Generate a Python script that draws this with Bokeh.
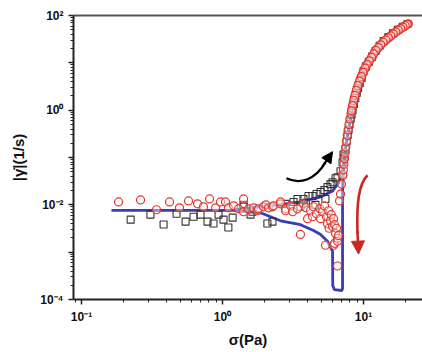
from bokeh.plotting import figure
from bokeh.models import (Range1d, FixedTicker, CustomJSTickFormatter, LinearAxis,
                          Arrow, NormalHead)
from bokeh.embed import file_html
from bokeh.resources import INLINE

# ---------------- data ----------------
# down-sweep (red open circles)
red_x = [0.183, 0.262, 0.340, 0.421, 0.495, 0.574, 0.665, 0.733, 0.809, 0.892, 0.968,
         1.05, 1.10, 1.20, 1.30, 1.41, 1.41, 1.53, 1.66, 1.77, 1.80, 1.95, 2.03, 2.12,
         2.26, 2.30, 2.58, 2.58, 2.80, 2.80, 3.04, 3.14, 3.40, 3.57, 3.75, 3.90, 4.01,
         4.21, 4.35, 4.42, 4.64, 4.90, 4.95, 5.12, 5.30, 5.37, 5.46, 5.55, 5.65, 5.70,
         5.83, 5.90, 6.03, 6.13, 6.13, 6.23, 6.23, 6.33, 6.43, 6.54, 6.54, 6.54, 6.65,
         6.76, 6.87, 6.98, 7.10,
         7.15, 7.20, 7.26, 7.33, 7.40, 7.48, 7.57, 7.67, 7.77, 7.88, 8.0, 8.15, 8.3,
         8.45, 8.6, 8.8, 9.0, 9.25, 9.5, 9.8, 10.1, 10.4, 10.8, 11.2, 11.6, 12.0, 12.5,
         13.0, 13.5, 14.1, 14.7, 15.3, 15.9, 16.6, 17.3, 18.0, 18.7, 19.4, 20.1, 20.8,
         20.45, 19.75, 19.05, 18.35, 17.65, 16.95, 16.25, 15.6, 15.0, 14.4, 13.8, 13.25,
         12.75, 12.25, 11.8, 11.4, 11.0, 10.6, 10.25, 9.95, 9.65, 9.37, 9.12, 8.9, 8.7,
         8.52, 8.37, 8.22]
red_y = [0.0115, 0.0127, 0.00787, 0.0115, 0.00866, 0.0121, 0.0105, 0.00909, 0.0133,
         0.00866, 0.0115, 0.0115, 0.00866, 0.00953, 0.00825, 0.00715, 0.0133, 0.00825,
         0.00866, 0.0075, 0.00825, 0.00909, 0.0100, 0.00866, 0.00909, 0.00953, 0.0105,
         0.0115, 0.00825, 0.0075, 0.00953, 0.00715, 0.00825, 0.00237, 0.0105, 0.0087,
         0.0051, 0.0075, 0.0056, 0.0091, 0.0065, 0.0083, 0.0051, 0.00715, 0.0095,
         0.0014, 0.00562, 0.0040, 0.0075, 0.0032, 0.00464, 0.0062, 0.00348, 0.0051,
         0.0014, 0.0038, 0.00154, 0.00249, 0.0032, 0.00196, 0.0017, 0.00051, 0.00226,
         0.0121, 0.0169, 0.0274, 0.0442,
         0.042, 0.055, 0.072, 0.095, 0.125, 0.165, 0.22, 0.29, 0.38, 0.5, 0.65, 0.85,
         1.1, 1.4, 1.8, 2.3, 2.9, 3.7, 4.6, 5.7, 7.0, 8.4, 10.0, 12.0, 14.0, 17.0, 19.5,
         22.5, 25.5, 29.0, 32.0, 35.5, 39.0, 43.0, 47.0, 51.0, 55.0, 59.0, 63.0, 67.0,
         65.0, 61.0, 57.0, 53.0, 49.0, 45.0, 41.0, 37.0, 33.8, 30.5, 27.2, 24.0,
         21.0, 18.2, 15.5, 13.0, 11.0, 9.2, 7.7, 6.3, 5.1, 4.1, 3.3, 2.6, 2.05,
         1.6, 1.25, 0.97]

# up-sweep (black open squares)
blk_x = [0.223, 0.308, 0.382, 0.472, 0.547, 0.623, 0.698, 0.783, 0.863, 0.937, 1.016,
         1.10, 1.18, 1.41, 1.41, 1.58, 1.63, 2.08, 2.26, 2.80, 3.19, 3.40, 3.57, 3.75,
         3.90, 4.07, 4.35, 4.56, 4.64, 4.96, 5.28, 5.37, 5.55, 5.83, 6.03, 6.33, 6.54,
         6.87, 7.10, 7.21,
         7.30, 7.45, 7.60, 7.72, 7.83, 7.95, 8.10, 8.22, 8.36, 8.55, 8.75, 8.95, 9.15,
         9.40, 9.70, 10.0, 10.4, 10.9, 11.5, 12.2, 13.0, 13.9, 15.0, 16.2, 17.5, 19.0,
         20.5]
blk_y = [0.00487, 0.0062, 0.00383, 0.0065, 0.00442, 0.00562, 0.0062, 0.00442, 0.00402,
         0.0062, 0.00487, 0.00332, 0.00536, 0.00909, 0.0100, 0.0062, 0.00715, 0.00402,
         0.00442, 0.0105, 0.0115, 0.0133, 0.0091, 0.0133, 0.0110, 0.0154, 0.0154, 0.0100,
         0.0169, 0.0187, 0.0205, 0.0133, 0.0237, 0.0274, 0.0301, 0.0365, 0.0383, 0.0511,
         0.0787, 0.1155,
         0.10, 0.15, 0.22, 0.30, 0.38, 0.50, 0.65, 0.80, 1.0, 1.35, 1.8, 2.3, 2.9, 3.7,
         4.8, 6.6, 8.4, 10.5, 13.5, 18.0, 23.0, 28.7, 35.0, 42.0, 50.0, 58.0, 66.0]

# model curves (blue)
blue_a_x = [0.163, 1.20, 1.86, 2.58, 3.57, 4.42, 4.96, 5.55, 6.03, 6.05, 6.22, 7.02, 7.10,
            7.10, 7.21, 7.45, 7.83, 8.36, 9.06, 10.0, 11.6, 13.9, 16.9, 20.5]
blue_a_y = [0.0076, 0.0076, 0.0068, 0.0046, 0.0038, 0.00287, 0.00237, 0.0017, 0.00105,
            0.000196, 0.000162, 0.000155, 0.00017, 0.0187, 0.056, 0.147, 0.383, 1.0,
            2.61, 6.8, 14.0, 28.7, 46.4, 68.0]
blue_b_x = [1.20, 2.19, 3.57, 4.96, 6.03, 6.65, 7.10, 7.30]
blue_b_y = [0.0079, 0.0095, 0.0115, 0.0147, 0.0195, 0.0289, 0.051, 0.09]

x_major = [0.1, 1, 10]
y_major = [1e-4, 1e-3, 1e-2, 1e-1, 1, 10, 100]

# ---------------- figure ----------------
p = figure(width=422, height=350, x_axis_type="log", y_axis_type="log",
           x_range=Range1d(0.0877, 26.2), y_range=Range1d(1e-4, 1e2),
           output_backend="svg", toolbar_location=None,
           min_border_left=73, min_border_right=0, min_border_top=15, min_border_bottom=49)
p.background_fill_color = "white"
p.border_fill_color = "white"
p.outline_line_color = None
p.xgrid.visible = False
p.ygrid.visible = False

BLUE = "#3a3db5"
RED = "#e2352c"

p.line(blue_a_x, blue_a_y, line_color=BLUE, line_width=2.8)
p.line(blue_b_x, blue_b_y, line_color=BLUE, line_width=2.8)
p.scatter(blk_x, blk_y, marker="square", size=7, fill_color=None,
          line_color="#333333", line_width=1.1)
p.scatter(red_x, red_y, marker="circle", size=8, fill_color="white", fill_alpha=0.4,
          line_color=RED, line_width=1.2)

# arrows
p.bezier(x0=[2.84], y0=[0.0365], x1=[5.37], y1=[0.0787],
         cx0=[3.57], cy0=[0.0261], cx1=[4.57], cy1=[0.0348],
         line_color="black", line_width=2.2)
p.add_layout(Arrow(end=NormalHead(size=11, fill_color="black", line_color="black"),
                   x_start=5.12, y_start=0.0649, x_end=6.03, y_end=0.133,
                   line_color="black", line_width=2.2))
p.bezier(x0=[10.67], y0=[0.0422], x1=[9.06], y1=[0.0025],
         cx0=[9.22], cy0=[0.0274], cx1=[8.92], cy1=[0.0105],
         line_color="#c8281e", line_width=2.6)
p.add_layout(Arrow(end=NormalHead(size=13, fill_color="#c8281e", line_color="#c8281e"),
                   x_start=9.06, y_start=0.0028, x_end=9.22, y_end=0.00091,
                   line_color="#c8281e", line_width=2.6))

fmt_code = """
const e = Math.round(Math.log10(tick));
if (skip_odd && (e % 2 !== 0)) { return ''; }
const sup = {'-':'\u207b','0':'\u2070','1':'\u00b9','2':'\u00b2','3':'\u00b3','4':'\u2074'};
return '10' + String(e).split('').map(c => sup[c]).join('');
"""

def minors(majors):
    out = []
    for m in majors:
        for k in range(2, 10):
            out.append(m * k)
    return out

xa = p.xaxis[0]
xa.ticker = FixedTicker(ticks=x_major, minor_ticks=minors([0.01] + x_major))
xa.formatter = CustomJSTickFormatter(args=dict(skip_odd=False), code=fmt_code)
ya = p.yaxis[0]
ya.ticker = FixedTicker(ticks=y_major, minor_ticks=minors(y_major[:-1]))
ya.formatter = CustomJSTickFormatter(args=dict(skip_odd=True), code=fmt_code)

for ax in (xa, ya):
    ax.axis_line_width = 2
    ax.axis_line_color = "#222222"
    ax.major_tick_line_color = "#222222"
    ax.minor_tick_line_color = "#222222"
    ax.major_tick_line_width = 1.5
    ax.major_tick_out = 5
    ax.major_tick_in = 0
    ax.minor_tick_out = 3
    ax.minor_tick_in = 0
    ax.major_label_text_font = "Liberation Sans"
    ax.major_label_text_font_style = "bold"
    ax.major_label_text_font_size = "12px"
    ax.major_label_text_color = "#111111"
    ax.axis_label_text_font = "Liberation Sans"
    ax.axis_label_text_font_style = "bold"
    ax.axis_label_text_font_size = "15px"
    ax.axis_label_text_color = "#111111"

xa.axis_label = "\u03c3(Pa)"
xa.axis_label_standoff = 4
ya.axis_label = "|\u03b3\u0307|(1/s)"
ya.axis_label_standoff = 10

top = LinearAxis(ticker=FixedTicker(ticks=[]), major_tick_out=0, minor_tick_out=0,
                 major_label_text_font_size="0px", major_label_standoff=0,
                 axis_line_width=2, axis_line_color="#555555")
p.add_layout(top, "above")

open("out.html", "w").write(file_html(p, INLINE))
